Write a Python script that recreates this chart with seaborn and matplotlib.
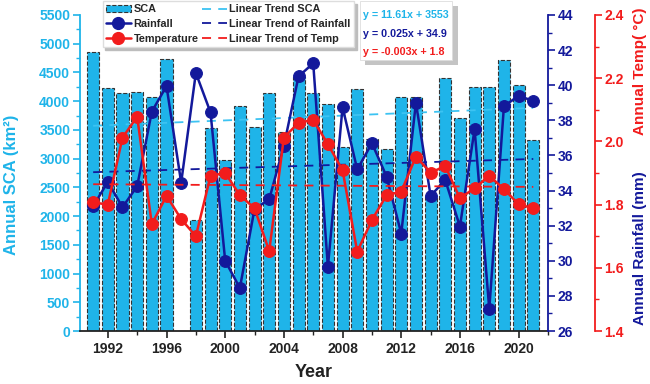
import numpy as np
import matplotlib
matplotlib.use('Agg')
import matplotlib.pyplot as plt
import seaborn as sns
from matplotlib.lines import Line2D
from matplotlib.patches import Patch, Rectangle
from matplotlib.ticker import MultipleLocator, FormatStrFormatter

years = list(range(1991, 2022))
sca = [4850, 4225, 4150, 4160, 4070, 4740, 0, 1930, 3530, 2970,
       3920, 3555, 4150, 3460, 4420, 4150, 3945, 3205, 4210, 3340,
       3175, 4065, 4075, 2350, 4405, 3710, 4240, 4240, 4715, 4280, 3325]
rainfall = [33.1, 34.5, 33.05, 34.25, 38.5, 39.95, 34.45, 40.7, 38.45, 30.0,
            28.45, 32.95, 33.5, 36.55, 40.5, 41.25, 29.65, 38.75, 35.2, 36.7,
            34.8, 31.55, 39.0, 33.7, 34.6, 31.95, 37.5, 27.25, 38.8, 39.4, 39.1]
temp = [1.807, 1.80, 2.012, 2.078, 1.738, 1.828, 1.754, 1.70, 1.891, 1.90,
        1.83, 1.788, 1.653, 2.012, 2.059, 2.068, 1.991, 1.909, 1.651, 1.751,
        1.83, 1.841, 1.952, 1.901, 1.922, 1.82, 1.852, 1.891, 1.849, 1.801, 1.788]
eq_labels = ['y = 11.61x + 3553', 'y = 0.025x + 34.9', 'y = -0.003x + 1.8']

c_sca = '#1fb4e9'
c_trend_sca = '#3cc3f2'
c_rain = '#13199b'
c_temp = '#f21c1c'

sns.set_theme(style='ticks')
plt.rcParams['font.family'] = ['Liberation Sans', 'DejaVu Sans']
plt.rcParams['font.weight'] = 'bold'


def trend(vals):
    x = np.arange(1, len(vals) + 1)
    k, b = np.polyfit(x, np.array(vals, dtype=float), 1)
    return k * x + b


fig = plt.figure(figsize=(6.5, 3.84), dpi=100)
ax = fig.add_axes([0.123, 0.138, 0.720, 0.823])
ax2 = ax.twinx()
ax3 = ax.twinx()

# bars + SCA trend
sns.barplot(x=years, y=sca, native_scale=True, color=c_sca, saturation=1,
            width=0.82, errorbar=None, edgecolor='#333333', linestyle='--',
            linewidth=0.8, ax=ax)
ax.plot(years, trend(sca), color=c_trend_sca, lw=1.3, ls=(0, (5, 4)))

# rainfall
ax2.plot(years, trend(rainfall), color=c_rain, lw=1.3, ls=(0, (5, 4)))
sns.lineplot(x=years, y=rainfall, ax=ax2, color=c_rain, marker='o',
             markersize=8.5, markeredgecolor=c_rain, linewidth=1.8)

# temperature
ax3.plot(years, trend(temp), color=c_temp, lw=1.3, ls=(0, (5, 4)))
sns.lineplot(x=years, y=temp, ax=ax3, color=c_temp, marker='o',
             markersize=8.5, markeredgecolor=c_temp, linewidth=1.8)

ax.set_xlim(1990.1, 2022)
ax.set_ylim(0, 5500)
ax2.set_ylim(26, 44)
ax3.set_ylim(1.4, 2.4)

ax.xaxis.set_major_locator(MultipleLocator(4))
ax.xaxis.set_minor_locator(MultipleLocator(2))
ax.yaxis.set_major_locator(MultipleLocator(500))
ax.yaxis.set_minor_locator(MultipleLocator(250))
ax2.yaxis.set_major_locator(MultipleLocator(2))
ax2.yaxis.set_minor_locator(MultipleLocator(1))
ax3.yaxis.set_major_locator(MultipleLocator(0.2))
ax3.yaxis.set_minor_locator(MultipleLocator(0.1))
ax3.yaxis.set_major_formatter(FormatStrFormatter('%.1f'))

for a in (ax, ax2, ax3):
    a.set_xlabel('')
    a.set_ylabel('')
    a.spines['top'].set_visible(False)

ax.spines['right'].set_visible(False)
ax.spines['left'].set_color(c_sca)
ax.spines['left'].set_linewidth(1.3)
ax.spines['bottom'].set_color('#222222')
ax.spines['bottom'].set_linewidth(1.3)
for s in ('left', 'bottom'):
    ax2.spines[s].set_visible(False)
    ax3.spines[s].set_visible(False)
ax2.spines['right'].set_color(c_rain)
ax2.spines['right'].set_linewidth(1.3)
ax3.spines['right'].set_position(('axes', 1.10))
ax3.spines['right'].set_color(c_temp)
ax3.spines['right'].set_linewidth(1.3)

ax.tick_params(axis='x', which='major', direction='out', length=5, width=1.2,
               labelsize=10, colors='#222222', pad=3)
ax.tick_params(axis='x', which='minor', direction='out', length=3, width=1.0,
               colors='#222222')
for a, col in ((ax, c_sca), (ax2, c_rain), (ax3, c_temp)):
    a.tick_params(axis='y', which='major', direction='out', length=5, width=1.2,
                  labelsize=10, colors=col, pad=2)
    a.tick_params(axis='y', which='minor', direction='out', length=3, width=1.0,
                  colors=col)

ax.set_xlabel('Year', fontsize=13, fontweight='bold', color='#222222', labelpad=6)
fig.text(0.018, 0.52, 'Annual SCA (km²)', rotation=90, ha='center', va='center',
         fontsize=12, fontweight='bold', color=c_sca)
fig.text(0.985, 0.354, 'Annual Rainfall (mm)', rotation=90, ha='center',
         va='center', fontsize=11, fontweight='bold', color=c_rain)
fig.text(0.985, 0.815, 'Annual Temp( °C)', rotation=90, ha='center',
         va='center', fontsize=11, fontweight='bold', color=c_temp)

# legend
handles = [
    Patch(facecolor=c_sca, edgecolor='#333333', linestyle='--', linewidth=0.8),
    Line2D([], [], color=c_rain, marker='o', markersize=8.5, lw=1.8),
    Line2D([], [], color=c_temp, marker='o', markersize=8.5, lw=1.8),
    Line2D([], [], color=c_trend_sca, lw=1.3, ls=(0, (5, 4))),
    Line2D([], [], color=c_rain, lw=1.3, ls=(0, (5, 4))),
    Line2D([], [], color=c_temp, lw=1.3, ls=(0, (5, 4))),
]
labels = ['SCA', 'Rainfall', 'Temperature', 'Linear Trend SCA',
          'Linear Trend of Rainfall', 'Linear Trend of Temp']
leg = fig.legend(handles, labels, loc='upper left', bbox_to_anchor=(0.158, 0.997),
                 ncol=2, frameon=True, shadow={'color': '#bdbdbd', 'alpha': 1},
                 fancybox=False, edgecolor='#dddddd', facecolor='white',
                 framealpha=1, handlelength=2.3, columnspacing=0.3,
                 labelspacing=0.42, borderpad=0.3, handletextpad=0.25,
                 borderaxespad=0, prop={'size': 7.8, 'weight': 'bold'})

# equation box
fig.add_artist(Rectangle((0.562, 0.831), 0.142, 0.154, transform=fig.transFigure,
                         facecolor='#c4c4c4', edgecolor='none'))
fig.add_artist(Rectangle((0.554, 0.844), 0.142, 0.154, transform=fig.transFigure,
                         facecolor='white', edgecolor='#dddddd', lw=0.6))
for lab, col, yy in zip(eq_labels, [c_sca, c_rain, c_temp], [0.961, 0.912, 0.864]):
    fig.text(0.559, yy, lab, color=col, fontsize=7.7, fontweight='bold',
             ha='left', va='center')

fig.savefig('out.png', dpi=100)
